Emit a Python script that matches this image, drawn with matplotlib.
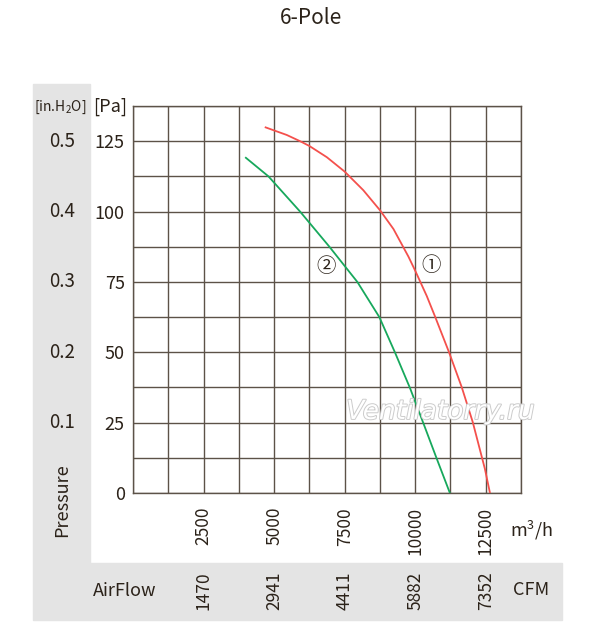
import matplotlib.pyplot as plt
import matplotlib.patheffects as pe
from matplotlib.patches import Rectangle
from matplotlib.transforms import blended_transform_factory

plt.rcParams['font.family'] = ['Noto Sans CJK SC', 'DejaVu Sans']
plt.rcParams['mathtext.default'] = 'regular'

# Data (airflow m3/h, pressure Pa)
flow_1 = [4700, 5450, 5920, 6250, 6870, 7500, 8160, 8750, 9230, 9760, 10000, 10410, 10700, 11200, 11650, 12040, 12470, 12650]
pres_1 = [129.9, 127.2, 125.0, 123.3, 119.3, 114.2, 107.6, 100.5, 93.8, 84.0, 79.0, 70.0, 62.8, 50.0, 37.6, 25.2, 8.6, 0]
flow_2 = [4000, 4800, 5920, 6960, 7490, 7950, 8730, 9290, 9820, 10290, 10760, 11230]
pres_2 = [119.1, 112.5, 100.0, 87.5, 80.8, 75.0, 62.5, 49.8, 37.2, 24.8, 12.3, 0]

m3h_ticks = [2500, 5000, 7500, 10000, 12500]
cfm_labels = ["1470", "2941", "4411", "5882", "7352"]
pa_ticks = [0, 25, 50, 75, 100, 125]
inch_labels = ["0.1", "0.2", "0.3", "0.4", "0.5"]
inch_pos = [25, 50, 75, 100, 125]

W, H = 600, 626
text_c = '#2b2219'
grid_c = '#5c5248'
panel_c = '#e4e4e4'

fig = plt.figure(figsize=(6, 6.26), dpi=100)


def fx(x):
    return x / W


def fy(y):
    return 1 - y / H


# gray label panels (behind everything)
fig.patches.append(Rectangle((fx(33), fy(620)), fx(90) - fx(33), fy(84) - fy(620),
                             transform=fig.transFigure, color=panel_c, zorder=-5))
fig.patches.append(Rectangle((fx(90), fy(620)), fx(562) - fx(90), fy(563) - fy(620),
                             transform=fig.transFigure, color=panel_c, zorder=-5))

ax = fig.add_axes([fx(133), fy(493), fx(521) - fx(133), fy(106) - fy(493)])
ax.set_xlim(0, 13750)
ax.set_ylim(0, 137.5)

# grid
for gx in range(0, 13751, 1250):
    ax.axvline(gx, color=grid_c, lw=1.0, zorder=1)
for gy in [i * 12.5 for i in range(12)]:
    ax.axhline(gy, color=grid_c, lw=1.0, zorder=1)
for s in ax.spines.values():
    s.set_color(grid_c)
    s.set_linewidth(1.0)

ax.plot(flow_1, pres_1, color='#f4504c', lw=1.3, zorder=3)
ax.plot(flow_2, pres_2, color='#17a85c', lw=1.3, zorder=3)

ax.text(10560, 80.7, '①', fontsize=14, ha='center', va='center', color=text_c, zorder=4)
ax.text(6840, 80.3, '②', fontsize=14, ha='center', va='center', color=text_c, zorder=4)

ax.text(10900, 28.8, 'Ventilatorry.ru', fontsize=19, style='italic', family='DejaVu Sans',
        color='white', ha='center', va='center', zorder=5,
        path_effects=[pe.withStroke(linewidth=1.4, foreground='#cccccc')])

ax.set_xticks(m3h_ticks)
ax.set_xticklabels([str(v) for v in m3h_ticks], rotation=90, fontsize=12.5, color=text_c)
ax.set_yticks(pa_ticks)
ax.set_yticklabels([str(v) for v in pa_ticks], fontsize=13, color=text_c)
ax.tick_params(axis='x', length=0, pad=10)
ax.tick_params(axis='y', length=0, pad=6)

# inch H2O column
tr_y = blended_transform_factory(fig.transFigure, ax.transData)
for lab, p in zip(inch_labels, inch_pos):
    ax.text(fx(62), p, lab, transform=tr_y, fontsize=13.5, ha='center', va='center',
            color=text_c, clip_on=False)

# CFM row
tr_x = blended_transform_factory(ax.transData, fig.transFigure)
for lab, f in zip(cfm_labels, m3h_ticks):
    ax.text(f, fy(591), lab, transform=tr_x, fontsize=12.5, rotation=90,
            ha='center', va='center', color=text_c, clip_on=False)

fig.text(fx(60), fy(107), '[in.H$_2$O]', fontsize=10, ha='center', va='center', color=text_c)
fig.text(fx(110), fy(107), '[Pa]', fontsize=13, ha='center', va='center', color=text_c)
fig.text(fx(62), fy(500), 'Pressure', fontsize=13, rotation=90, ha='center', va='center', color=text_c)
fig.text(fx(531), fy(530), 'm$^3$/h', fontsize=13, ha='center', va='center', color=text_c)
fig.text(fx(125), fy(591), 'AirFlow', fontsize=13, ha='center', va='center', color=text_c)
fig.text(fx(531), fy(590), 'CFM', fontsize=13, ha='center', va='center', color=text_c)
fig.text(fx(311), fy(18), '6-Pole', fontsize=15, ha='center', va='center', color=text_c)

fig.savefig('out.png', dpi=100)
